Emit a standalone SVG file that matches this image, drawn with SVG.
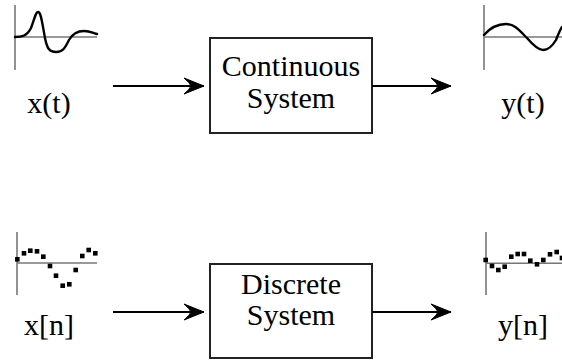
<svg xmlns="http://www.w3.org/2000/svg" width="562" height="360" viewBox="0 0 562 360">
<style>
.axis{stroke:#777;stroke-width:1.6;fill:none}
.sig{stroke:#000;stroke-width:2.4;fill:none;stroke-linecap:round;stroke-linejoin:round}
.box{fill:#fff;stroke:#222;stroke-width:2}
.conn{stroke:#000;stroke-width:2;fill:none}
.lbl{font-family:"Liberation Serif","Times New Roman",serif;font-size:30px;fill:#000;text-anchor:middle}
.dot{fill:#000}
</style>
<defs>
<marker id="ah" markerUnits="userSpaceOnUse" markerWidth="24" markerHeight="20" refX="22" refY="9" orient="auto">
<path d="M22,9 Q12,5 2,1 Q8,6 9,9 Q8,12 2,17 Q12,13 22,9 Z" fill="#000" stroke="#000" stroke-width="1" stroke-linejoin="round"/>
</marker>
<rect id="d" x="-2.3" y="-2.3" width="4.6" height="4.6" class="dot"/>
</defs>
<g id="signal-xt">
<line class="axis" x1="15" y1="5" x2="15" y2="70"/>
<line class="axis" x1="15" y1="37" x2="97" y2="37"/>
<path class="sig" d="M15,37 C22,37 27,36 31,28 C35,17 36,12 38,12 C41,12 42,22 45,38 C47,48 49,52 56,52 C63,52 65,48 69,40 C73,33 78,31 84,31 C90,31 93,33 97,34"/>
<text class="lbl" x="49" y="113">x(t)</text>
</g>
<g id="signal-yt">
<line class="axis" x1="484" y1="5" x2="484" y2="70"/>
<line class="axis" x1="484" y1="37" x2="562" y2="37"/>
<path class="sig" d="M484,35 C490,28 498,24 506,24 C515,24 520,31 527,38 C533,45 538,50 543,50 C549,50 553,45 556,40 C558,35 560,30 562,27"/>
<text class="lbl" x="523" y="113">y(t)</text>
</g>
<g id="continuous-system">
<rect class="box" x="210" y="38" width="162" height="95"/>
<text class="lbl" x="291" y="76">Continuous</text>
<text class="lbl" x="291" y="108">System</text>
</g>
<g id="signal-xn">
<line class="axis" x1="17" y1="232" x2="17" y2="295"/>
<line class="axis" x1="17" y1="263" x2="97" y2="263"/>
<use href="#d" x="17.3" y="259.3"/>
<use href="#d" x="24" y="253.3"/>
<use href="#d" x="30.3" y="250.7"/>
<use href="#d" x="37" y="251.3"/>
<use href="#d" x="43.3" y="256.7"/>
<use href="#d" x="50" y="266"/>
<use href="#d" x="56" y="275.7"/>
<use href="#d" x="62.7" y="285.7"/>
<use href="#d" x="69.3" y="284.3"/>
<use href="#d" x="75.7" y="270"/>
<use href="#d" x="82.3" y="256"/>
<use href="#d" x="88.7" y="250"/>
<use href="#d" x="95.3" y="253.3"/>
<text class="lbl" x="49" y="335">x[n]</text>
</g>
<g id="signal-yn">
<line class="axis" x1="486" y1="232" x2="486" y2="295"/>
<line class="axis" x1="486" y1="263.3" x2="562" y2="263.3"/>
<use href="#d" x="485.7" y="260"/>
<use href="#d" x="492" y="266"/>
<use href="#d" x="498.3" y="270"/>
<use href="#d" x="504.7" y="266.7"/>
<use href="#d" x="511.3" y="256.7"/>
<use href="#d" x="517.7" y="254"/>
<use href="#d" x="524" y="254"/>
<use href="#d" x="530.3" y="260.7"/>
<use href="#d" x="537" y="264.3"/>
<use href="#d" x="543.3" y="260"/>
<use href="#d" x="550" y="254.3"/>
<use href="#d" x="556.7" y="252"/>
<use href="#d" x="562" y="258"/>
<text class="lbl" x="523" y="335">y[n]</text>
</g>
<g id="discrete-system">
<rect class="box" x="210" y="264" width="162" height="94"/>
<text class="lbl" x="291" y="294">Discrete</text>
<text class="lbl" x="291" y="325">System</text>
</g>
<g id="connectors">
<line class="conn" x1="113" y1="86" x2="204" y2="86" marker-end="url(#ah)"/>
<line class="conn" x1="372" y1="86" x2="451" y2="86" marker-end="url(#ah)"/>
<line class="conn" x1="113" y1="312" x2="204" y2="312" marker-end="url(#ah)"/>
<line class="conn" x1="372" y1="312" x2="451" y2="312" marker-end="url(#ah)"/>
</g>
</svg>
